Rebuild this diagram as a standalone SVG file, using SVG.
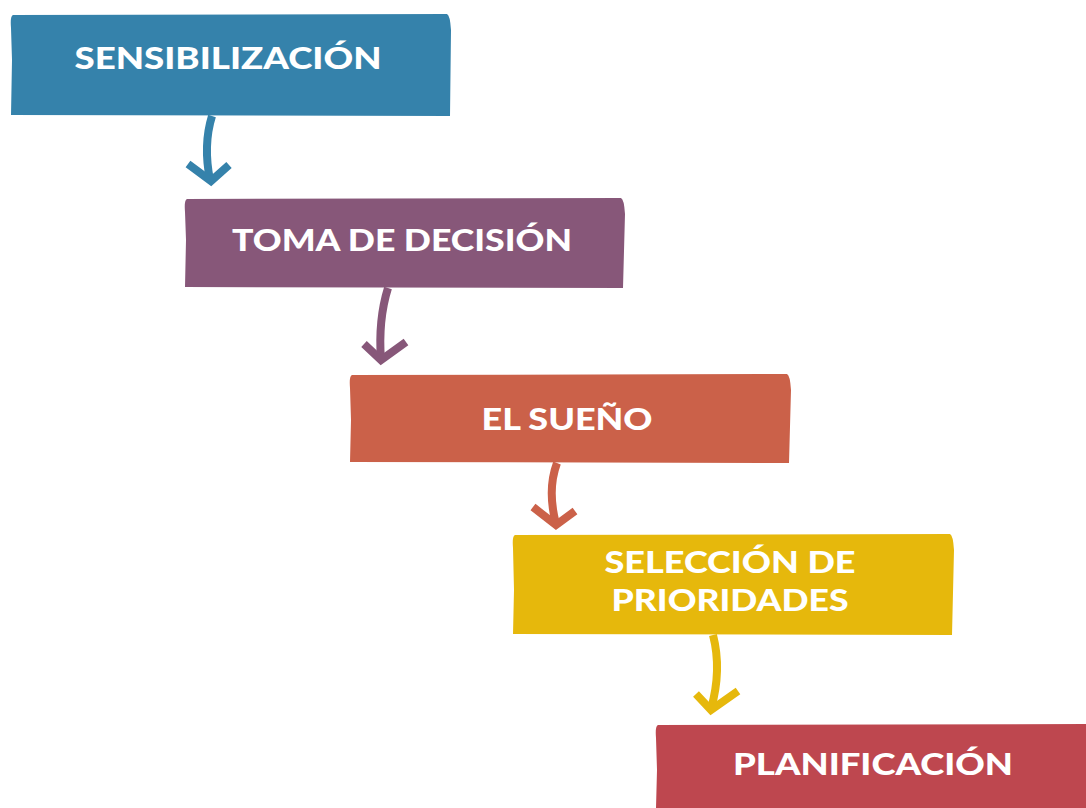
<svg xmlns="http://www.w3.org/2000/svg" width="1086" height="808" viewBox="0 0 1086 808">
<style>
.lbl{font-family:Lato,"Open Sans","Liberation Sans",sans-serif;font-weight:900;fill:#ffffff;text-anchor:middle;font-size:30px}
.arr{fill:none;stroke-width:8;stroke-linejoin:miter;stroke-linecap:butt}
</style>
<rect width="1086" height="808" fill="#ffffff"/>
<g id="node-sensibilizacion">
<path d="M13,15 L447,14 Q450,15 451,30 L450,116 L11,115 L12,60 L11,28 Q10,16 13,15 Z" fill="#3582AB"/>
<text class="lbl" x="228" y="69" textLength="307" lengthAdjust="spacingAndGlyphs">SENSIBILIZACIÓN</text>
</g>
<g id="node-toma">
<path d="M187,199 L621,198 Q624,199 625,214 L623,288 L185,287 L186,240 L185,212 Q184,200 187,199 Z" fill="#875779"/>
<text class="lbl" x="402" y="251" textLength="340" lengthAdjust="spacingAndGlyphs">TOMA DE DECISIÓN</text>
</g>
<g id="node-sueno">
<path d="M352,375 L787,374 Q790,375 791,390 L789,463 L350,462 L351,420 L350,388 Q349,376 352,375 Z" fill="#CB6149"/>
<text class="lbl" x="567" y="430" textLength="171" lengthAdjust="spacingAndGlyphs">EL SUEÑO</text>
</g>
<g id="node-seleccion">
<path d="M515,535 L950,534 Q953,535 954,550 L952,635 L513,634 L514,590 L513,548 Q512,536 515,535 Z" fill="#E6B80C"/>
<text class="lbl" x="730" y="573" textLength="251" lengthAdjust="spacingAndGlyphs">SELECCIÓN DE</text>
<text class="lbl" x="730" y="611" textLength="237" lengthAdjust="spacingAndGlyphs">PRIORIDADES</text>
</g>
<g id="node-planificacion">
<path d="M658,725 L1086,724 L1086,808 L656,808 L657,770 L656,738 Q655,726 658,725 Z" fill="#BE474F"/>
<text class="lbl" x="873" y="775" textLength="280" lengthAdjust="spacingAndGlyphs">PLANIFICACIÓN</text>
</g>
<g id="connectors">
<path class="arr" stroke="#3582AB" d="M212,116 Q203,145 210,180"/>
<path class="arr" stroke="#3582AB" d="M188,164 L211,181 L229,165"/>
<path class="arr" stroke="#875779" d="M388,288 Q378,320 381,360"/>
<path class="arr" stroke="#875779" d="M364,344 L381,360 L406,342"/>
<path class="arr" stroke="#CB6149" d="M557,463 Q547,490 556,524"/>
<path class="arr" stroke="#CB6149" d="M533,507 L556,525 L575,511"/>
<path class="arr" stroke="#E6B80C" d="M713,635 Q722,670 711,709"/>
<path class="arr" stroke="#E6B80C" d="M696,694 L711,710 L738,691"/>
</g>
</svg>
